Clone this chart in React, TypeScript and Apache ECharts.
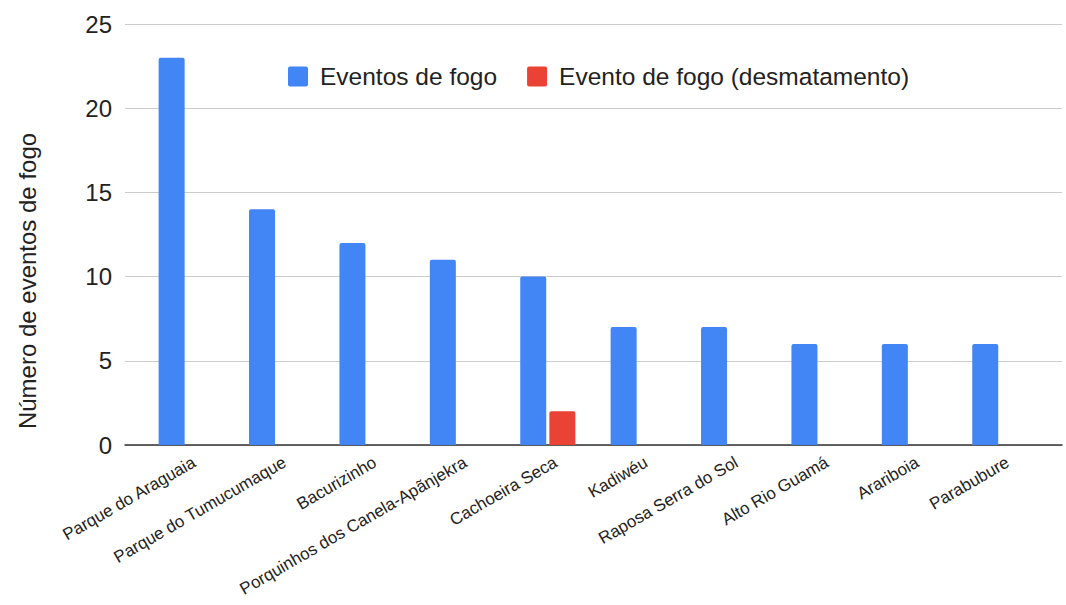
import React, { useEffect, useRef } from "react";
import * as echarts from "echarts";

const categories = [
  "Parque do Araguaia",
  "Parque do Tumucumaque",
  "Bacurizinho",
  "Porquinhos dos Canela-Apãnjekra",
  "Cachoeira Seca",
  "Kadiwéu",
  "Raposa Serra do Sol",
  "Alto Rio Guamá",
  "Arariboia",
  "Parabubure",
];
const eventosFogo = [23, 14, 12, 11, 10, 7, 7, 6, 6, 6];
const eventoDesmatamento = [null, null, null, null, 2, null, null, null, null, null];
const yTicks = [0, 5, 10, 15, 20, 25];

export default function App() {
  const ref = useRef<HTMLDivElement>(null);
  useEffect(() => {
    const chart = echarts.init(ref.current!, null, { renderer: "svg" });
    const labelFont = "Arial, 'Liberation Sans', sans-serif";
    chart.setOption({
      animation: false,
      backgroundColor: "#ffffff",
      legend: {
        top: 59,
        left: 283,
        itemWidth: 20,
        itemHeight: 20,
        itemGap: 30,
        icon: "path://M2,0 H18 Q20,0 20,2 V18 Q20,20 18,20 H2 Q0,20 0,18 V2 Q0,0 2,0 Z",
        textStyle: {
          fontFamily: labelFont,
          fontSize: 24.5,
          color: "#222",
          padding: [0, 0, 0, 7],
        },
        data: ["Eventos de fogo", "Evento de fogo (desmatamento)"],
      },
      graphic: [
        {
          type: "text",
          x: 27,
          y: 281,
          rotation: Math.PI / 2,
          style: {
            text: "Número de eventos de fogo",
            fontFamily: labelFont,
            fontSize: 24,
            fill: "#222",
            align: "center",
            verticalAlign: "middle",
          },
        },
      ],
      grid: [
        { left: 125, right: 4, top: 24, bottom: 160 },
        { left: 141, right: 21, top: 24, bottom: 160 },
        { left: 149, right: 13, top: 24, bottom: 160 },
      ],
      xAxis: [
        {
          type: "category",
          gridIndex: 0,
          data: [""],
          axisLine: { show: true, lineStyle: { color: "#333", width: 1.5 } },
          axisTick: { show: false },
          axisLabel: { show: false },
        },
        {
          type: "category",
          gridIndex: 1,
          data: categories,
          axisLine: { show: false },
          axisTick: { show: false },
          axisLabel: { show: false },
        },
        {
          type: "category",
          gridIndex: 2,
          data: categories,
          axisLine: { show: false },
          axisTick: { show: false },
          axisLabel: {
            interval: 0,
            rotate: 30,
            fontFamily: labelFont,
            fontSize: 17,
            color: "#222",
            margin: 16,
          },
        },
      ],
      yAxis: [
        {
          type: "value",
          gridIndex: 0,
          min: 0,
          max: 25,
          interval: 5,
          axisLine: { show: false },
          axisTick: { show: false },
          splitLine: { lineStyle: { color: "#cccccc", width: 1 } },
          axisLabel: {
            fontFamily: labelFont,
            fontSize: 24,
            color: "#222",
            margin: 13,
            customValues: yTicks,
          },
        },
        {
          type: "value",
          gridIndex: 1,
          min: 0,
          max: 25,
          interval: 5,
          show: false,
        },
        {
          type: "value",
          gridIndex: 2,
          min: 0,
          max: 25,
          interval: 5,
          show: false,
        },
      ],
      series: [
        {
          name: "Eventos de fogo",
          type: "bar",
          xAxisIndex: 1,
          yAxisIndex: 1,
          data: eventosFogo,
          barWidth: 26,
          barGap: "12%",
          itemStyle: { color: "#4285f4", borderRadius: [2, 2, 0, 0] },
          z: 3,
        },
        {
          name: "Evento de fogo (desmatamento)",
          type: "bar",
          xAxisIndex: 1,
          yAxisIndex: 1,
          data: eventoDesmatamento,
          barWidth: 26,
          barGap: "12%",
          itemStyle: { color: "#ea4335", borderRadius: [2, 2, 0, 0] },
          z: 3,
        },
      ],
    });
    return () => chart.dispose();
  }, []);
  return (
    <div
      ref={ref}
      style={{ position: "absolute", left: 0, top: 0, width: 1066, height: 605 }}
    />
  );
}
